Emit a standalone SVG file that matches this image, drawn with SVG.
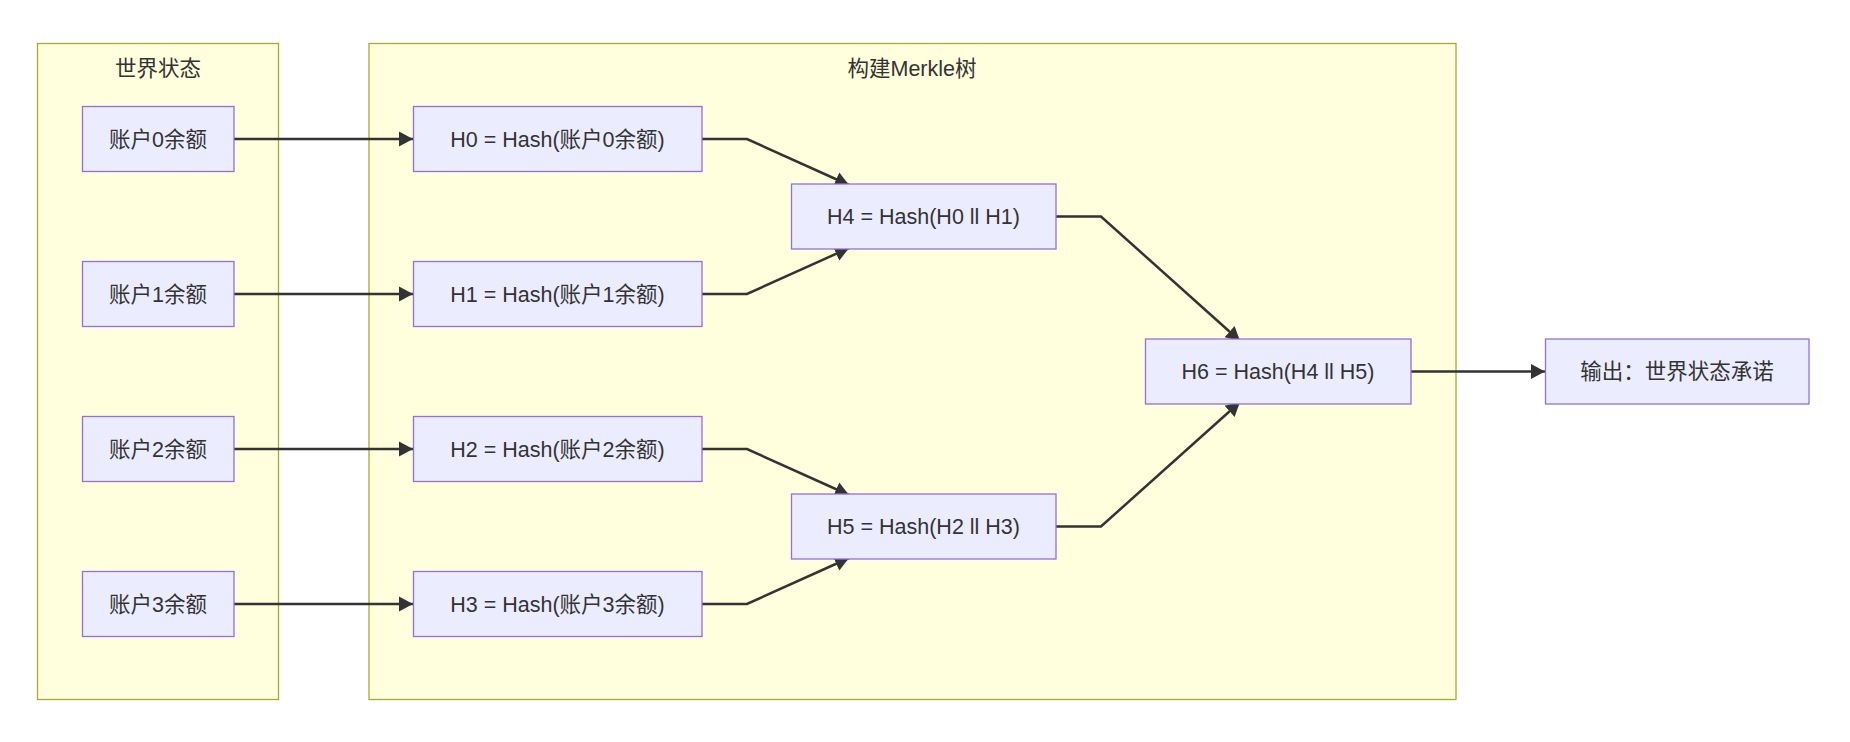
<svg xmlns="http://www.w3.org/2000/svg" width="1850" height="742" viewBox="0 0 1850 742">
<style>
.cluster{fill:#ffffde;stroke:#aaaa33;stroke-width:1.3}
.node rect{fill:#ECECFF;stroke:#9370DB;stroke-width:1.3}
text{font-family:"Liberation Sans","Noto Sans CJK SC",sans-serif;font-size:21.5px;fill:#333;text-anchor:middle}
.edge{fill:none;stroke:#333;stroke-width:2.5;marker-end:url(#arrow)}
</style>
<defs>
<marker id="arrow" markerUnits="userSpaceOnUse" markerWidth="15" markerHeight="16" refX="14" refY="7.5" orient="auto" viewBox="0 0 15 15">
<path d="M0,0 L14,7.5 L0,15 z" fill="#333"/>
</marker>
</defs>
<rect width="1850" height="742" fill="#ffffff"/>
<g id="cluster-world">
<rect class="cluster" x="37.5" y="43.5" width="241" height="656"/>
<text x="158" y="76">世界状态</text>
</g>
<g id="cluster-merkle">
<rect class="cluster" x="369" y="43.5" width="1087" height="656"/>
<text x="912" y="76">构建Merkle树</text>
</g>
<g id="connectors">
<path class="edge" d="M234,139 L413,139"/>
<path class="edge" d="M234,294 L413,294"/>
<path class="edge" d="M234,449 L413,449"/>
<path class="edge" d="M234,604 L413,604"/>
<path class="edge" d="M702,139 L747,139 L849,185"/>
<path class="edge" d="M702,294 L747,294 L849,248"/>
<path class="edge" d="M702,449 L747,449 L849,495"/>
<path class="edge" d="M702,604 L747,604 L849,558"/>
<path class="edge" d="M1056,216.5 L1101,216.5 L1240,341"/>
<path class="edge" d="M1056,526.5 L1101,526.5 L1240,402"/>
<path class="edge" d="M1411,371.5 L1545,371.5"/>
</g>
<g id="A0" class="node"><rect x="82.5" y="106.5" width="151.5" height="65"/><text x="158" y="146.5">账户0余额</text></g>
<g id="A1" class="node"><rect x="82.5" y="261.5" width="151.5" height="65"/><text x="158" y="301.5">账户1余额</text></g>
<g id="A2" class="node"><rect x="82.5" y="416.5" width="151.5" height="65"/><text x="158" y="456.5">账户2余额</text></g>
<g id="A3" class="node"><rect x="82.5" y="571.5" width="151.5" height="65"/><text x="158" y="611.5">账户3余额</text></g>
<g id="H0" class="node"><rect x="413.5" y="106.5" width="288.5" height="65"/><text x="557.5" y="146.5">H0 = Hash(账户0余额)</text></g>
<g id="H1" class="node"><rect x="413.5" y="261.5" width="288.5" height="65"/><text x="557.5" y="301.5">H1 = Hash(账户1余额)</text></g>
<g id="H2" class="node"><rect x="413.5" y="416.5" width="288.5" height="65"/><text x="557.5" y="456.5">H2 = Hash(账户2余额)</text></g>
<g id="H3" class="node"><rect x="413.5" y="571.5" width="288.5" height="65"/><text x="557.5" y="611.5">H3 = Hash(账户3余额)</text></g>
<g id="H4" class="node"><rect x="791.5" y="184" width="264.5" height="65"/><text x="923.5" y="224">H4 = Hash(H0 ll H1)</text></g>
<g id="H5" class="node"><rect x="791.5" y="494" width="264.5" height="65"/><text x="923.5" y="534">H5 = Hash(H2 ll H3)</text></g>
<g id="H6" class="node"><rect x="1145.5" y="339" width="265.5" height="65"/><text x="1278" y="379">H6 = Hash(H4 ll H5)</text></g>
<g id="OUT" class="node"><rect x="1545.5" y="339" width="263.5" height="65"/><text x="1677" y="379">输出：世界状态承诺</text></g>
</svg>
